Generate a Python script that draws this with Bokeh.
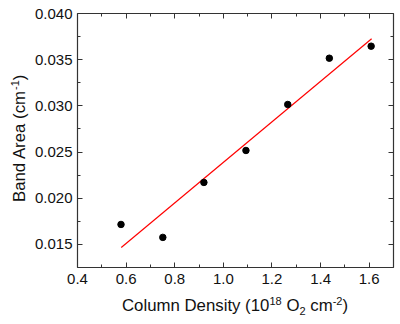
import math
from bokeh.plotting import figure
from bokeh.models import LinearAxis, NumeralTickFormatter, Range1d, FixedTicker, Label
from bokeh.embed import file_html
from bokeh.resources import INLINE

# data
col_density = [0.579, 0.751, 0.920, 1.093, 1.265, 1.436, 1.608]
band_area = [0.01716, 0.01576, 0.02171, 0.02517, 0.03015, 0.03516, 0.03646]
fit_x = [0.58, 1.61]
fit_y = [0.01467, 0.03726]
x_ticks = [0.4, 0.6, 0.8, 1.0, 1.2, 1.4, 1.6]
y_ticks = [0.015, 0.020, 0.025, 0.030, 0.035, 0.040]
x_minor = [0.5, 0.7, 0.9, 1.1, 1.3, 1.5, 1.7]
y_minor = [0.0125, 0.0175, 0.0225, 0.0275, 0.0325, 0.0375]
x_lim = (0.4, 1.7)
y_lim = (0.0125, 0.040)
# axis titles as (text, kind) pieces: n = normal, sup = superscript, sub = subscript
x_title = [("Column Density (10", "n"), ("18", "sup"), (" O", "n"), ("2", "sub"),
           (" cm", "n"), ("-2", "sup"), (")", "n")]
y_title = [("Band Area (cm", "n"), ("-1", "sup"), (")", "n")]

FONT = "Liberation Sans"
W, H = 400, 324
# plot box in canvas pixels (left, right, top, bottom)
BL, BR, BT, BB = 77, 393, 13, 267
MAIN, SMALL = 16.8, 11.0

# the frame fills the canvas; the axes are pinned at the box edges
kx = (x_lim[1] - x_lim[0]) / (BR - BL)
ky = (y_lim[1] - y_lim[0]) / (BB - BT)
xr = Range1d(x_lim[0] - BL * kx, x_lim[1] + (W - BR) * kx)
yr_ = Range1d(y_lim[0] - (H - BB) * ky, y_lim[1] + BT * ky)

p = figure(width=W, height=H, output_backend="svg", toolbar_location=None,
           x_range=xr, y_range=yr_, min_border=0,
           x_axis_location=None, y_axis_location=None)
p.xgrid.visible = False
p.ygrid.visible = False
p.outline_line_color = None

def style(ax, ticks, minor, fmt, loc, bounds, show_labels):
    ax.ticker = FixedTicker(ticks=ticks, minor_ticks=minor)
    ax.formatter = NumeralTickFormatter(format=fmt)
    ax.fixed_location = loc
    ax.bounds = bounds
    ax.major_tick_in = 5
    ax.major_tick_out = 0
    ax.minor_tick_in = 3
    ax.minor_tick_out = 0
    ax.axis_line_color = "#333333"
    ax.axis_line_width = 1.2
    ax.major_tick_line_color = "#333333"
    ax.minor_tick_line_color = "#333333"
    ax.major_label_text_font = FONT
    ax.major_label_text_font_size = "15px"
    ax.major_label_text_color = "#111111"
    if not show_labels:
        ax.major_label_overrides = {t: "" for t in ticks}

xb = LinearAxis()
style(xb, x_ticks, x_minor, "0.0", y_lim[0], x_lim, True)
xb.major_label_standoff = 6
p.add_layout(xb, "below")

yl = LinearAxis()
style(yl, y_ticks, y_minor, "0.000", x_lim[0], y_lim, True)
yl.major_label_standoff = 5
p.add_layout(yl, "left")

xt = LinearAxis()
style(xt, x_ticks, x_minor, "0.0", y_lim[1], x_lim, False)
p.add_layout(xt, "above")

yr = LinearAxis()
style(yr, y_ticks, y_minor, "0.000", x_lim[1], y_lim, False)
p.add_layout(yr, "right")

p.line(fit_x, fit_y, line_color="#ff0000", line_width=1.2)
p.scatter(col_density, band_area, size=6.5, color="black")

# approximate Arial / Liberation Sans advance widths (per 1000 em)
AW = {" ": 278, "(": 333, ")": 333, "-": 333, ".": 278, "A": 667, "B": 667, "C": 722,
      "D": 722, "O": 778, "a": 556, "c": 500, "d": 556, "e": 556, "i": 222, "l": 222,
      "m": 833, "n": 556, "o": 556, "r": 333, "s": 500, "t": 278, "u": 556, "y": 500}
def width(s, size):
    return sum(AW.get(ch, 556) for ch in s) * size / 1000.0

MID = 0.33  # middle of the em box above the baseline, as a fraction of font size

def compose(pieces, bx, by, vertical):
    """bx, by: canvas pixel position (from top-left) of the start of the main baseline."""
    pos = 0.0
    for txt, kind in pieces:
        size = MAIN if kind == "n" else SMALL
        shift = {"n": 0.0, "sup": 6.5, "sub": -3.5}[kind]
        lead = len(txt) - len(txt.lstrip(" "))
        pos += width(" " * lead, size)
        body = txt.lstrip(" ")
        off = shift + MID * size
        if vertical:
            cx, cy, ang = bx - off, by - pos, math.pi / 2
        else:
            cx, cy, ang = bx + pos, by - off, 0.0
        p.add_layout(Label(x=cx, y=H - cy, x_units="screen", y_units="screen",
                           text=body, angle=ang, text_font=FONT,
                           text_font_size=f"{size}px", text_color="#111111",
                           text_baseline="middle", text_align="left"))
        pos += width(body, size)

compose(x_title, 121.5, 311, False)
compose(y_title, 24.5, 201.5, True)

open("out.html", "w").write(file_html(p, INLINE))
